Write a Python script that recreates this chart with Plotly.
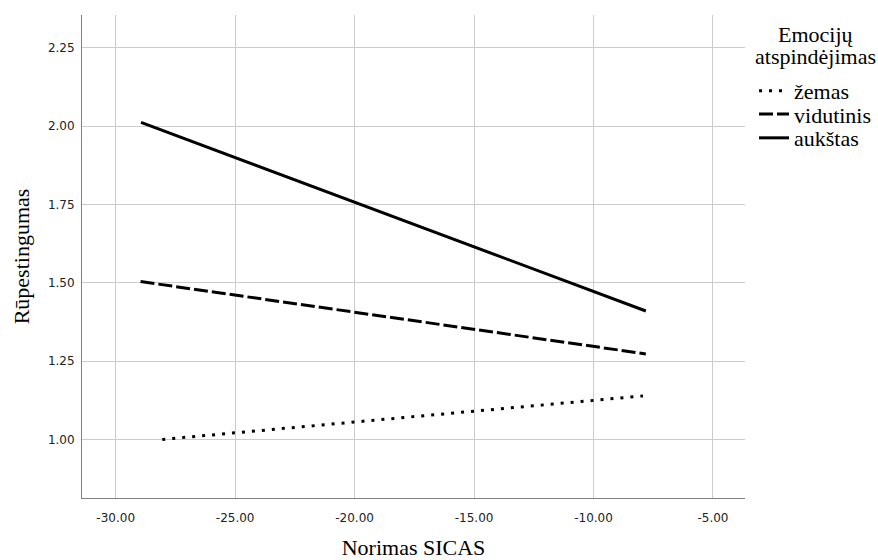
import plotly.graph_objects as go

# Data
series_names = ["žemas", "vidutinis", "aukštas"]
x_zemas = [-28.05, -7.93]
y_zemas = [1.00, 1.139]
x_vidutinis = [-28.96, -7.81]
y_vidutinis = [1.504, 1.273]
x_aukstas = [-28.94, -7.81]
y_aukstas = [2.012, 1.41]

x_tickvals = [-30, -25, -20, -15, -10, -5]
x_ticktext = ["-30.00", "-25.00", "-20.00", "-15.00", "-10.00", "-5.00"]
y_tickvals = [1.00, 1.25, 1.50, 1.75, 2.00, 2.25]
y_ticktext = ["1.00", "1.25", "1.50", "1.75", "2.00", "2.25"]
legend_title_lines = ["Emocijų", "atspindėjimas"]

serif = "Liberation Serif, Times New Roman, serif"
sans = "DejaVu Sans, sans-serif"
SER = 22

fig = go.Figure()
fig.add_trace(go.Scatter(x=x_zemas, y=y_zemas, mode="lines", name=series_names[0],
                         legend="legend",
                         line=dict(color="black", width=3, dash="3px,7px")))
fig.add_trace(go.Scatter(x=x_vidutinis, y=y_vidutinis, mode="lines", name=series_names[1],
                         legend="legend2",
                         line=dict(color="black", width=3, dash="14px,4px")))
fig.add_trace(go.Scatter(x=x_aukstas, y=y_aukstas, mode="lines", name=series_names[2],
                         legend="legend3",
                         line=dict(color="black", width=3)))

leg_common = dict(x=0.8588, xref="container", yref="container",
                  xanchor="left", yanchor="middle",
                  font=dict(family=serif, size=SER, color="black"),
                  itemwidth=30, bgcolor="rgba(0,0,0,0)", borderwidth=0)

fig.update_layout(
    width=878, height=560,
    margin=dict(l=82, r=133, t=15, b=62),
    plot_bgcolor="white", paper_bgcolor="white",
    showlegend=True,
    legend=dict(y=0.8375, **leg_common),
    legend2=dict(y=0.796, **leg_common),
    legend3=dict(y=0.7535, **leg_common),
    annotations=[
        dict(text=legend_title_lines[0], xref="paper", yref="paper", x=1.107, y=0.9596,
             xanchor="center", yanchor="middle", showarrow=False,
             font=dict(family=serif, size=SER, color="black")),
        dict(text=legend_title_lines[1], xref="paper", yref="paper", x=1.107, y=0.914,
             xanchor="center", yanchor="middle", showarrow=False,
             font=dict(family=serif, size=SER, color="black")),
    ],
)
fig.update_xaxes(range=[-31.41, -3.66], tickvals=x_tickvals, ticktext=x_ticktext,
                 automargin=False,
                 showgrid=True, gridcolor="#cccccc", gridwidth=1,
                 showline=True, linecolor="#808080", linewidth=1, zeroline=False,
                 ticks="", ticklabelstandoff=9, tickfont=dict(family=sans, size=12, color="#222"),
                 title=dict(text="Norimas SICAS", font=dict(family=serif, size=SER, color="black"),
                            standoff=19))
fig.update_yaxes(range=[0.813, 2.355], tickvals=y_tickvals, ticktext=y_ticktext,
                 automargin=False,
                 showgrid=True, gridcolor="#cccccc", gridwidth=1,
                 showline=True, linecolor="#808080", linewidth=1, zeroline=False,
                 ticks="", ticklabelstandoff=4, tickfont=dict(family=sans, size=12, color="#222"),
                 title=dict(text="Rūpestingumas", font=dict(family=serif, size=SER, color="black"),
                            standoff=12))

fig.write_html("out.html", config={"displayModeBar": False},
               post_script="document.body.style.margin='0';")
